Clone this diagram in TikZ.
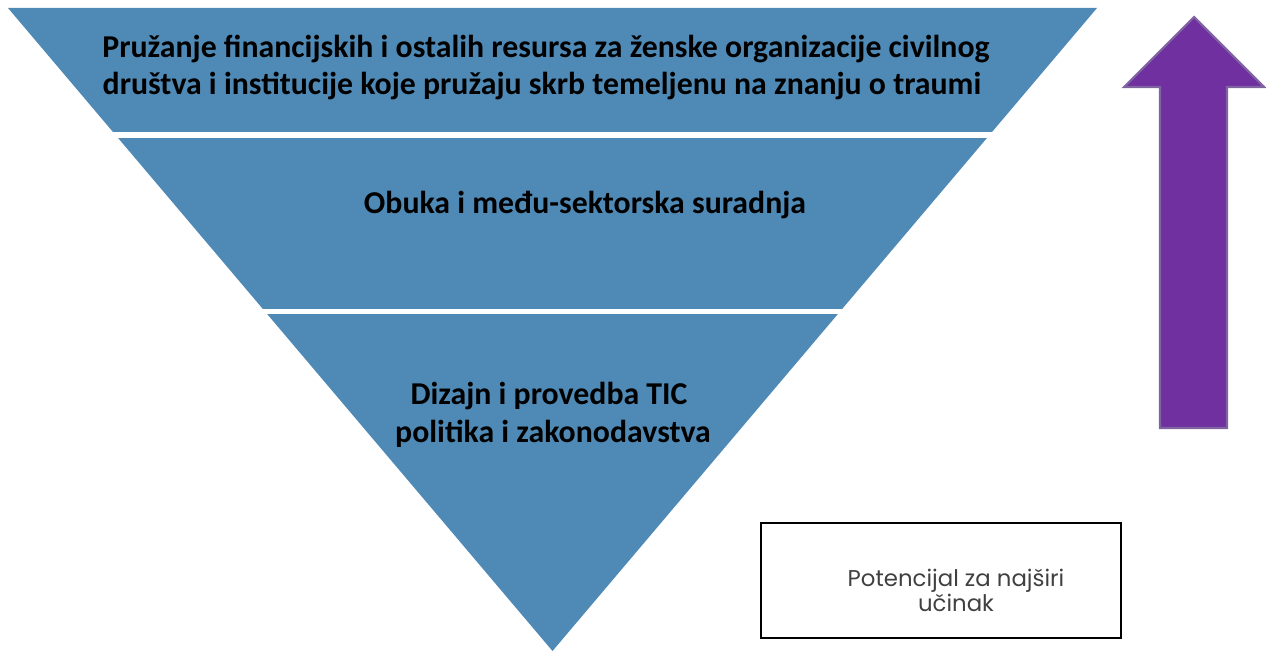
\documentclass[tikz,border=0pt]{standalone}
\usepackage{fontspec}
\setmainfont{Carlito}
\newfontfamily\boxfont{Poppins}
\usepackage{tikz}
\usetikzlibrary{calc}

\definecolor{bandblue}{RGB}{79,138,182}
\definecolor{upfill}{RGB}{112,48,160}
\definecolor{upline}{RGB}{128,100,162}
\definecolor{boxtext}{RGB}{64,64,64}

\tikzset{
	bandtxt/.style={anchor=base, font=\fontsize{18.1}{21}\selectfont\bfseries, text=black, inner sep=0pt},
	gap/.style={draw=white, line width=3.2pt},
	notetxt/.style={align=center, font=\boxfont\fontsize{13}{13}\selectfont, text=boxtext, inner sep=0pt}
}

\begin{document}
\begin{tikzpicture}[x=0.02cm, y=-0.02cm]
		%%%%% START %%%%%
		\useasboundingbox (0, 0) rectangle (1266, 652);
		
		% inverted pyramid, split in three bands
		\fill[bandblue] (8, 8) -- (1097, 8) -- (552.5, 651) -- cycle;
		\draw[gap] (0, 135) -- (1110, 135);
		\draw[gap] (0, 311.5) -- (1110, 311.5);
		
		\node[bandtxt] (fin1) at (546, 58) {Pružanje financijskih i ostalih resursa za ženske organizacije civilnog};
		\node[bandtxt] (fin2) at (542, 94) {društva i institucije koje pružaju skrb temeljenu na znanju o traumi};
		
		\node[bandtxt] (obuka) at (585, 213) {Obuka i među-sektorska suradnja};
		
		\node[bandtxt] (tic1) at (549, 404) {Dizajn i provedba TIC};
		\node[bandtxt] (tic2) at (553, 442) {politika i zakonodavstva};
		
		% upward arrow
		\draw[fill=upfill, draw=upline, line width=1.2pt] (1194, 17) -- (1264, 87) -- (1227, 87) -- (1227, 428) -- (1160, 428) -- (1160, 87) -- (1124, 87) -- cycle;
		
		% note box
		\draw[line width=0.9pt] (761, 523) rectangle (1121, 638);
		\node[notetxt] (potencijal) at (956, 590) {Potencijal za najširi\\učinak};
		%%%%% END %%%%%
	\end{tikzpicture}
\end{document}
